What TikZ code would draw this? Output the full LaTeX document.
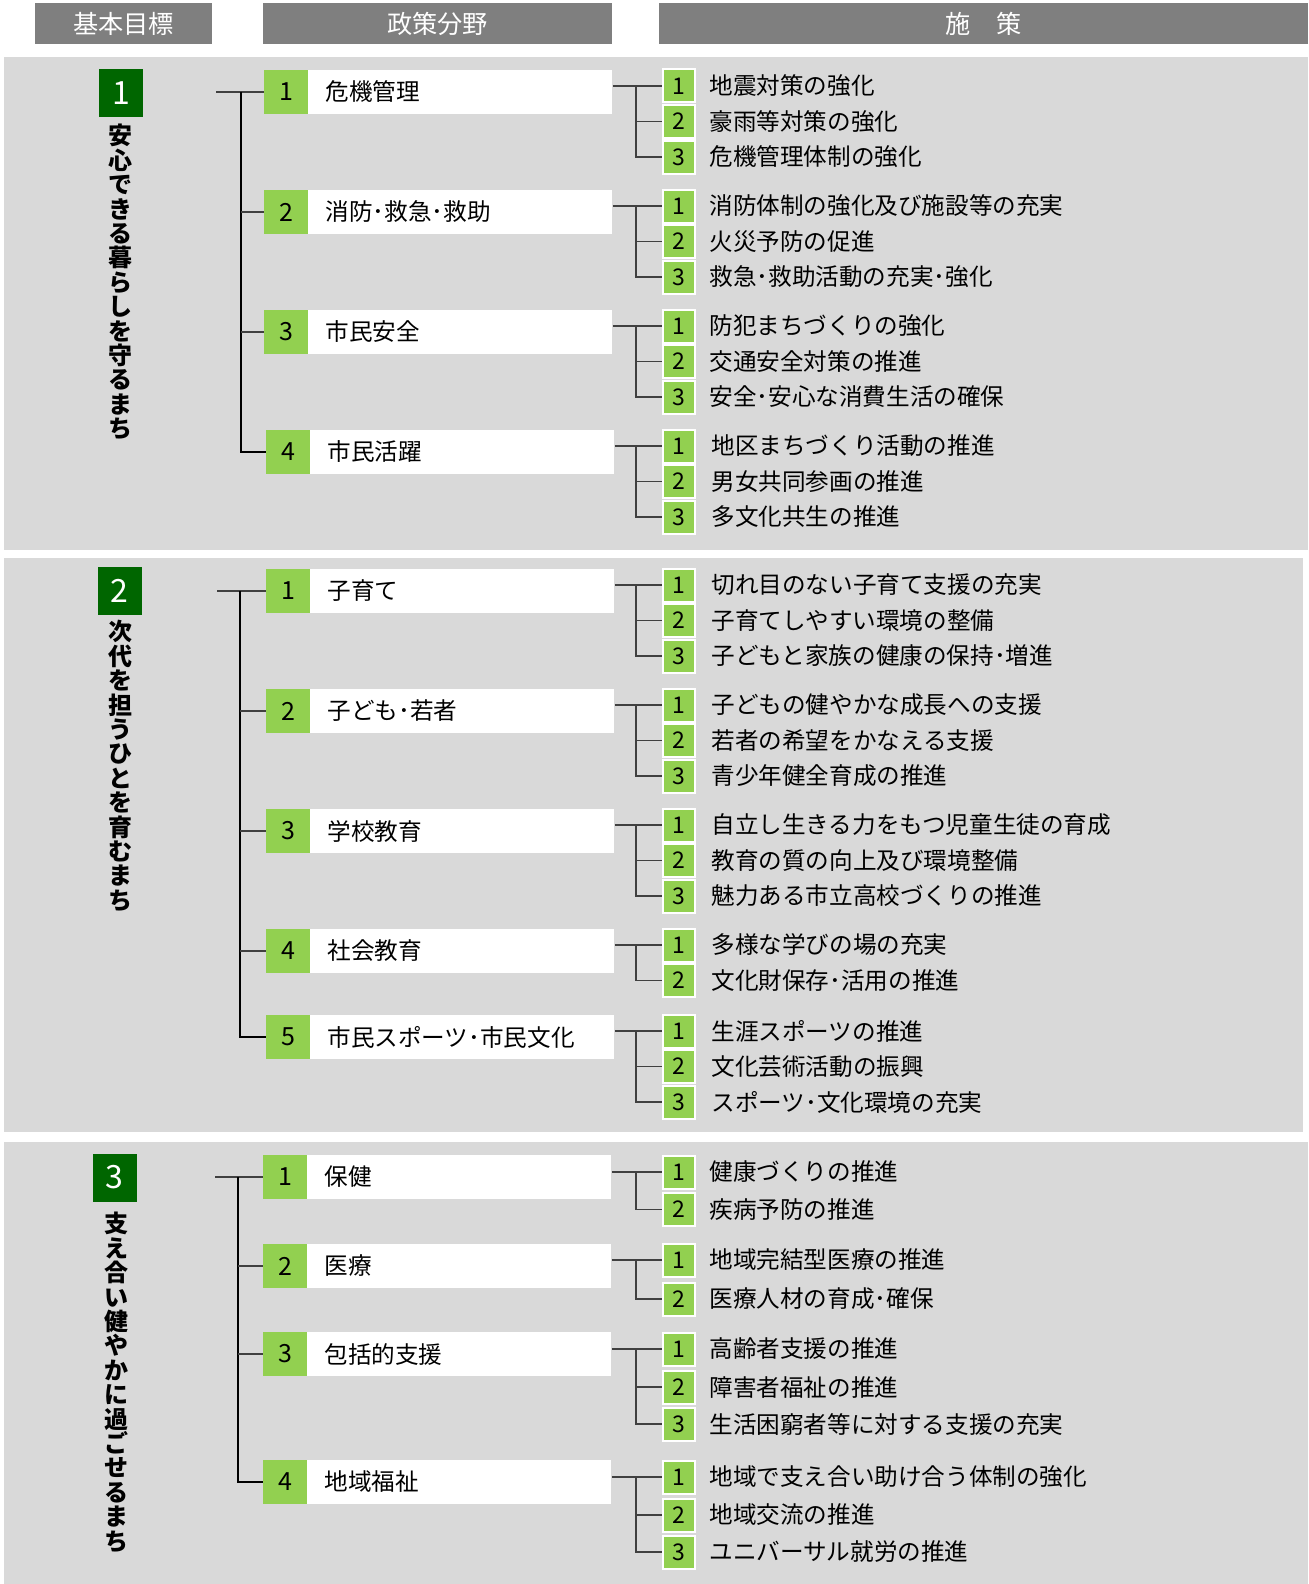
\documentclass[tikz,border=0pt]{standalone}
\usepackage{fontspec}
\setmainfont{Noto Sans CJK JP}
\definecolor{hdgray}{HTML}{7F7F7F}
\definecolor{panelgray}{HTML}{D9D9D9}
\definecolor{goalgreen}{HTML}{006600}
\definecolor{numgreen}{HTML}{92D050}
\tikzset{
  hdbox/.style={fill=hdgray, text=white, minimum height=20.5pt, inner sep=0pt, font=\fontsize{12.6}{14}\selectfont},
  goalnum/.style={fill=goalgreen, text=white, minimum width=22pt, minimum height=24pt, inner sep=0pt, font=\fontsize{16}{17}\selectfont},
  goaltext/.style={anchor=north, align=center, inner sep=0pt, font=\bfseries\fontsize{12}{12.2}\selectfont},
  fieldnum/.style={fill=numgreen, minimum width=22pt, minimum height=22pt, inner sep=0pt, font=\fontsize{12.5}{13}\selectfont},
  fieldbox/.style={fill=white, anchor=west, minimum height=22pt, text width=135pt, inner xsep=8.5pt, inner ysep=0pt, align=left, font=\fontsize{11.8}{13}\selectfont},
  measnum/.style={fill=numgreen, draw=white, line width=1pt, minimum width=16pt, minimum height=16.5pt, inner sep=0pt, font=\fontsize{11.5}{12}\selectfont},
  meastext/.style={anchor=west, inner sep=0pt, font=\fontsize{11.8}{13}\selectfont},
  stem/.style={draw=black!75, line width=0.9pt},
  trunk/.style={draw=black, line width=1pt}
}
\begin{document}
\begin{tikzpicture}[x=0.5pt,y=-0.5pt]
\useasboundingbox (0,0) rectangle (1308,1584);
% headings
\node[hdbox, minimum width=88.5pt] (hdgoal) at (123.5,23.5) {基本目標};
\node[hdbox, minimum width=174.5pt] (hdfield) at (437.5,23.5) {政策分野};
\node[hdbox, minimum width=324.5pt] (hdmeas) at (983.5,23.5) {施　策};
% panels
\fill[panelgray] (4,57) rectangle (1308,550);
\fill[panelgray] (4,558) rectangle (1303,1132);
\fill[panelgray] (4,1142) rectangle (1308,1584);
\coordinate (jx) at (636,0);
% goal 1
\node[goalnum] (g1) at (121,93) {1};
\node[goaltext] (g1t) at (120.5,124) {安\\心\\で\\き\\る\\暮\\ら\\し\\を\\守\\る\\ま\\ち};
\coordinate (sx1) at (216,0);
\coordinate (tx1) at (241,0);
\node[fieldnum] (f11n) at (286,92) {1};
\node[fieldbox] (f11) at (308,92) {危機管理};
\node[fieldnum] (f12n) at (286,212) {2};
\node[fieldbox] (f12) at (308,212) {消防･救急･救助};
\node[fieldnum] (f13n) at (286,332) {3};
\node[fieldbox] (f13) at (308,332) {市民安全};
\node[fieldnum] (f14n) at (288,452) {4};
\node[fieldbox] (f14) at (310,452) {市民活躍};
\draw[stem] (sx1 |- f11n) -- (f11n.west);
\draw[trunk] (tx1 |- f11n) |- (f14n.west);
\draw[stem] (tx1 |- f12n) -- (f12n.west);
\draw[stem] (tx1 |- f13n) -- (f13n.west);
\node[measnum] (m111) at (679,86) {1};
\node[meastext] (m111t) at (709,86) {地震対策の強化};
\node[measnum] (m112) at (679,121.5) {2};
\node[meastext] (m112t) at (709,121.5) {豪雨等対策の強化};
\node[measnum] (m113) at (679,157) {3};
\node[meastext] (m113t) at (709,157) {危機管理体制の強化};
\draw[stem] (f11.east |- m111) -- (m111.west);
\draw[stem] (jx |- m111) |- (m113.west);
\draw[stem] (jx |- m112) -- (m112.west);
\node[measnum] (m121) at (679,206) {1};
\node[meastext] (m121t) at (709,206) {消防体制の強化及び施設等の充実};
\node[measnum] (m122) at (679,241.5) {2};
\node[meastext] (m122t) at (709,241.5) {火災予防の促進};
\node[measnum] (m123) at (679,277) {3};
\node[meastext] (m123t) at (709,277) {救急･救助活動の充実･強化};
\draw[stem] (f12.east |- m121) -- (m121.west);
\draw[stem] (jx |- m121) |- (m123.west);
\draw[stem] (jx |- m122) -- (m122.west);
\node[measnum] (m131) at (679,326) {1};
\node[meastext] (m131t) at (709,326) {防犯まちづくりの強化};
\node[measnum] (m132) at (679,361.5) {2};
\node[meastext] (m132t) at (709,361.5) {交通安全対策の推進};
\node[measnum] (m133) at (679,397) {3};
\node[meastext] (m133t) at (709,397) {安全･安心な消費生活の確保};
\draw[stem] (f13.east |- m131) -- (m131.west);
\draw[stem] (jx |- m131) |- (m133.west);
\draw[stem] (jx |- m132) -- (m132.west);
\node[measnum] (m141) at (679,446) {1};
\node[meastext] (m141t) at (711,446) {地区まちづくり活動の推進};
\node[measnum] (m142) at (679,481.5) {2};
\node[meastext] (m142t) at (711,481.5) {男女共同参画の推進};
\node[measnum] (m143) at (679,517) {3};
\node[meastext] (m143t) at (711,517) {多文化共生の推進};
\draw[stem] (f14.east |- m141) -- (m141.west);
\draw[stem] (jx |- m141) |- (m143.west);
\draw[stem] (jx |- m142) -- (m142.west);
% goal 2
\node[goalnum] (g2) at (119.5,591) {2};
\node[goaltext] (g2t) at (120,620) {次\\代\\を\\担\\う\\ひ\\と\\を\\育\\む\\ま\\ち};
\coordinate (sx2) at (217,0);
\coordinate (tx2) at (240,0);
\node[fieldnum] (f21n) at (288,591) {1};
\node[fieldbox] (f21) at (310,591) {子育て};
\node[fieldnum] (f22n) at (288,711) {2};
\node[fieldbox] (f22) at (310,711) {子ども･若者};
\node[fieldnum] (f23n) at (288,831) {3};
\node[fieldbox] (f23) at (310,831) {学校教育};
\node[fieldnum] (f24n) at (288,951) {4};
\node[fieldbox] (f24) at (310,951) {社会教育};
\node[fieldnum] (f25n) at (288,1037) {5};
\node[fieldbox] (f25) at (310,1037) {市民スポーツ･市民文化};
\draw[stem] (sx2 |- f21n) -- (f21n.west);
\draw[trunk] (tx2 |- f21n) |- (f25n.west);
\draw[stem] (tx2 |- f22n) -- (f22n.west);
\draw[stem] (tx2 |- f23n) -- (f23n.west);
\draw[stem] (tx2 |- f24n) -- (f24n.west);
\node[measnum] (m211) at (679,585) {1};
\node[meastext] (m211t) at (711,585) {切れ目のない子育て支援の充実};
\node[measnum] (m212) at (679,620.5) {2};
\node[meastext] (m212t) at (711,620.5) {子育てしやすい環境の整備};
\node[measnum] (m213) at (679,656) {3};
\node[meastext] (m213t) at (711,656) {子どもと家族の健康の保持･増進};
\draw[stem] (f21.east |- m211) -- (m211.west);
\draw[stem] (jx |- m211) |- (m213.west);
\draw[stem] (jx |- m212) -- (m212.west);
\node[measnum] (m221) at (679,705) {1};
\node[meastext] (m221t) at (711,705) {子どもの健やかな成長への支援};
\node[measnum] (m222) at (679,740.5) {2};
\node[meastext] (m222t) at (711,740.5) {若者の希望をかなえる支援};
\node[measnum] (m223) at (679,776) {3};
\node[meastext] (m223t) at (711,776) {青少年健全育成の推進};
\draw[stem] (f22.east |- m221) -- (m221.west);
\draw[stem] (jx |- m221) |- (m223.west);
\draw[stem] (jx |- m222) -- (m222.west);
\node[measnum] (m231) at (679,825) {1};
\node[meastext] (m231t) at (711,825) {自立し生きる力をもつ児童生徒の育成};
\node[measnum] (m232) at (679,860.5) {2};
\node[meastext] (m232t) at (711,860.5) {教育の質の向上及び環境整備};
\node[measnum] (m233) at (679,896) {3};
\node[meastext] (m233t) at (711,896) {魅力ある市立高校づくりの推進};
\draw[stem] (f23.east |- m231) -- (m231.west);
\draw[stem] (jx |- m231) |- (m233.west);
\draw[stem] (jx |- m232) -- (m232.west);
\node[measnum] (m241) at (679,945) {1};
\node[meastext] (m241t) at (711,945) {多様な学びの場の充実};
\node[measnum] (m242) at (679,980.5) {2};
\node[meastext] (m242t) at (711,980.5) {文化財保存･活用の推進};
\draw[stem] (f24.east |- m241) -- (m241.west);
\draw[stem] (jx |- m241) |- (m242.west);
\node[measnum] (m251) at (679,1031) {1};
\node[meastext] (m251t) at (711,1031) {生涯スポーツの推進};
\node[measnum] (m252) at (679,1066.5) {2};
\node[meastext] (m252t) at (711,1066.5) {文化芸術活動の振興};
\node[measnum] (m253) at (679,1102) {3};
\node[meastext] (m253t) at (711,1102) {スポーツ･文化環境の充実};
\draw[stem] (f25.east |- m251) -- (m251.west);
\draw[stem] (jx |- m251) |- (m253.west);
\draw[stem] (jx |- m252) -- (m252.west);
% goal 3
\node[goalnum] (g3) at (114.5,1177.5) {3};
\node[goaltext] (g3t) at (116,1212) {支\\え\\合\\い\\健\\や\\か\\に\\過\\ご\\せ\\る\\ま\\ち};
\coordinate (sx3) at (215,0);
\coordinate (tx3) at (238,0);
\node[fieldnum] (f31n) at (285,1177) {1};
\node[fieldbox] (f31) at (307,1177) {保健};
\node[fieldnum] (f32n) at (285,1266) {2};
\node[fieldbox] (f32) at (307,1266) {医療};
\node[fieldnum] (f33n) at (285,1354) {3};
\node[fieldbox] (f33) at (307,1354) {包括的支援};
\node[fieldnum] (f34n) at (285,1482) {4};
\node[fieldbox] (f34) at (307,1482) {地域福祉};
\draw[stem] (sx3 |- f31n) -- (f31n.west);
\draw[trunk] (tx3 |- f31n) |- (f34n.west);
\draw[stem] (tx3 |- f32n) -- (f32n.west);
\draw[stem] (tx3 |- f33n) -- (f33n.west);
\node[measnum] (m311) at (679,1172) {1};
\node[meastext] (m311t) at (709,1172) {健康づくりの推進};
\node[measnum] (m312) at (679,1209.5) {2};
\node[meastext] (m312t) at (709,1209.5) {疾病予防の推進};
\draw[stem] (f31.east |- m311) -- (m311.west);
\draw[stem] (jx |- m311) |- (m312.west);
\node[measnum] (m321) at (679,1260) {1};
\node[meastext] (m321t) at (709,1260) {地域完結型医療の推進};
\node[measnum] (m322) at (679,1299) {2};
\node[meastext] (m322t) at (709,1299) {医療人材の育成･確保};
\draw[stem] (f32.east |- m321) -- (m321.west);
\draw[stem] (jx |- m321) |- (m322.west);
\node[measnum] (m331) at (679,1349) {1};
\node[meastext] (m331t) at (709,1349) {高齢者支援の推進};
\node[measnum] (m332) at (679,1387) {2};
\node[meastext] (m332t) at (709,1387) {障害者福祉の推進};
\node[measnum] (m333) at (679,1424) {3};
\node[meastext] (m333t) at (709,1424) {生活困窮者等に対する支援の充実};
\draw[stem] (f33.east |- m331) -- (m331.west);
\draw[stem] (jx |- m331) |- (m333.west);
\draw[stem] (jx |- m332) -- (m332.west);
\node[measnum] (m341) at (679,1477) {1};
\node[meastext] (m341t) at (709,1477) {地域で支え合い助け合う体制の強化};
\node[measnum] (m342) at (679,1515) {2};
\node[meastext] (m342t) at (709,1515) {地域交流の推進};
\node[measnum] (m343) at (679,1552) {3};
\node[meastext] (m343t) at (709,1552) {ユニバーサル就労の推進};
\draw[stem] (f34.east |- m341) -- (m341.west);
\draw[stem] (jx |- m341) |- (m343.west);
\draw[stem] (jx |- m342) -- (m342.west);
\end{tikzpicture}
\end{document}
